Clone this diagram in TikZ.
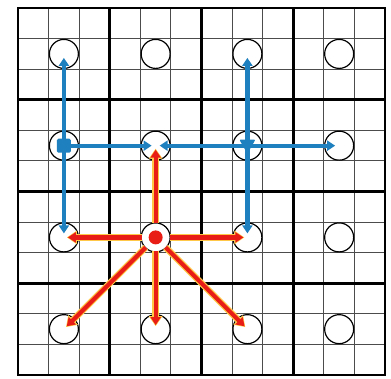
\documentclass[tikz,border=0pt]{standalone}
\usetikzlibrary{arrows.meta,shapes.geometric}
\definecolor{gblue}{RGB}{30,128,190}
\definecolor{gred}{RGB}{232,30,22}
\definecolor{halo}{RGB}{255,200,70}
\begin{document}
\begin{tikzpicture}[x=1pt,y=-1pt,
  thingrid/.style={draw=black!70,line width=1.1pt},
  thickgrid/.style={draw=black,line width=2.8pt,line cap=rect},
  spot/.style={circle,draw=black,line width=1.2pt,fill=white,minimum size=29pt,inner sep=0pt},
  bluearrow/.style={draw=gblue,line width=4.3pt,-{Triangle[length=8pt,width=10pt]},shorten >=4pt},
  haloarrow/.style={draw=halo,line width=6.5pt,-{Triangle[length=10pt,width=13pt]},shorten >=3pt,shorten <=14pt},
  redarrow/.style={draw=gred,line width=4.2pt,-{Triangle[length=8pt,width=10pt]},shorten >=4pt,shorten <=14pt}
]
\useasboundingbox (0,0) rectangle (391,378);
\fill[white] (0,0) rectangle (391,378);
% grid
\foreach \i in {1,2,4,5,7,8,10,11} {
  \draw[thingrid] ({18+\i*30.583},8) -- ({18+\i*30.583},375);
  \draw[thingrid] (18,{8+\i*30.583}) -- (385,{8+\i*30.583});
}
\foreach \i in {0,3,6,9,12} {
  \draw[thickgrid] ({18+\i*30.583},8) -- ({18+\i*30.583},375);
  \draw[thickgrid] (18,{8+\i*30.583}) -- (385,{8+\i*30.583});
}
% circles
\foreach \c in {0,...,3} {
  \foreach \r in {0,...,3} {
    \node[spot] (c\c\r) at ({63.9+91.75*\c},{53.9+91.75*\r}) {};
  }
}
% red arrows with halo
\foreach \t in {c02,c22,c11,c03,c13,c23} {
  \draw[haloarrow] (c12.center) -- (\t.center);
}
\foreach \t in {c02,c22,c11,c03,c13,c23} {
  \draw[redarrow] (c12.center) -- (\t.center);
}
% blue arrows
\foreach \t in {c00,c02,c11} {
  \draw[bluearrow] (c01.center) -- (\t.center);
}
\foreach \t in {c20,c22,c31,c11} {
  \draw[bluearrow] (c21.center) -- (\t.center);
}
% markers
\node[fill=gblue,minimum size=14pt,inner sep=0pt,rounded corners=1.5pt] (sq) at (c01) {};
\fill[gblue,rounded corners=1pt] ([shift={(-8,-6)}]c21.center) -- ([shift={(8,-6)}]c21.center) -- ([shift={(0,8)}]c21.center) -- cycle;
\node[circle,fill=gred,minimum size=14pt,inner sep=0pt] (dot) at (c12) {};
\end{tikzpicture}
\end{document}
